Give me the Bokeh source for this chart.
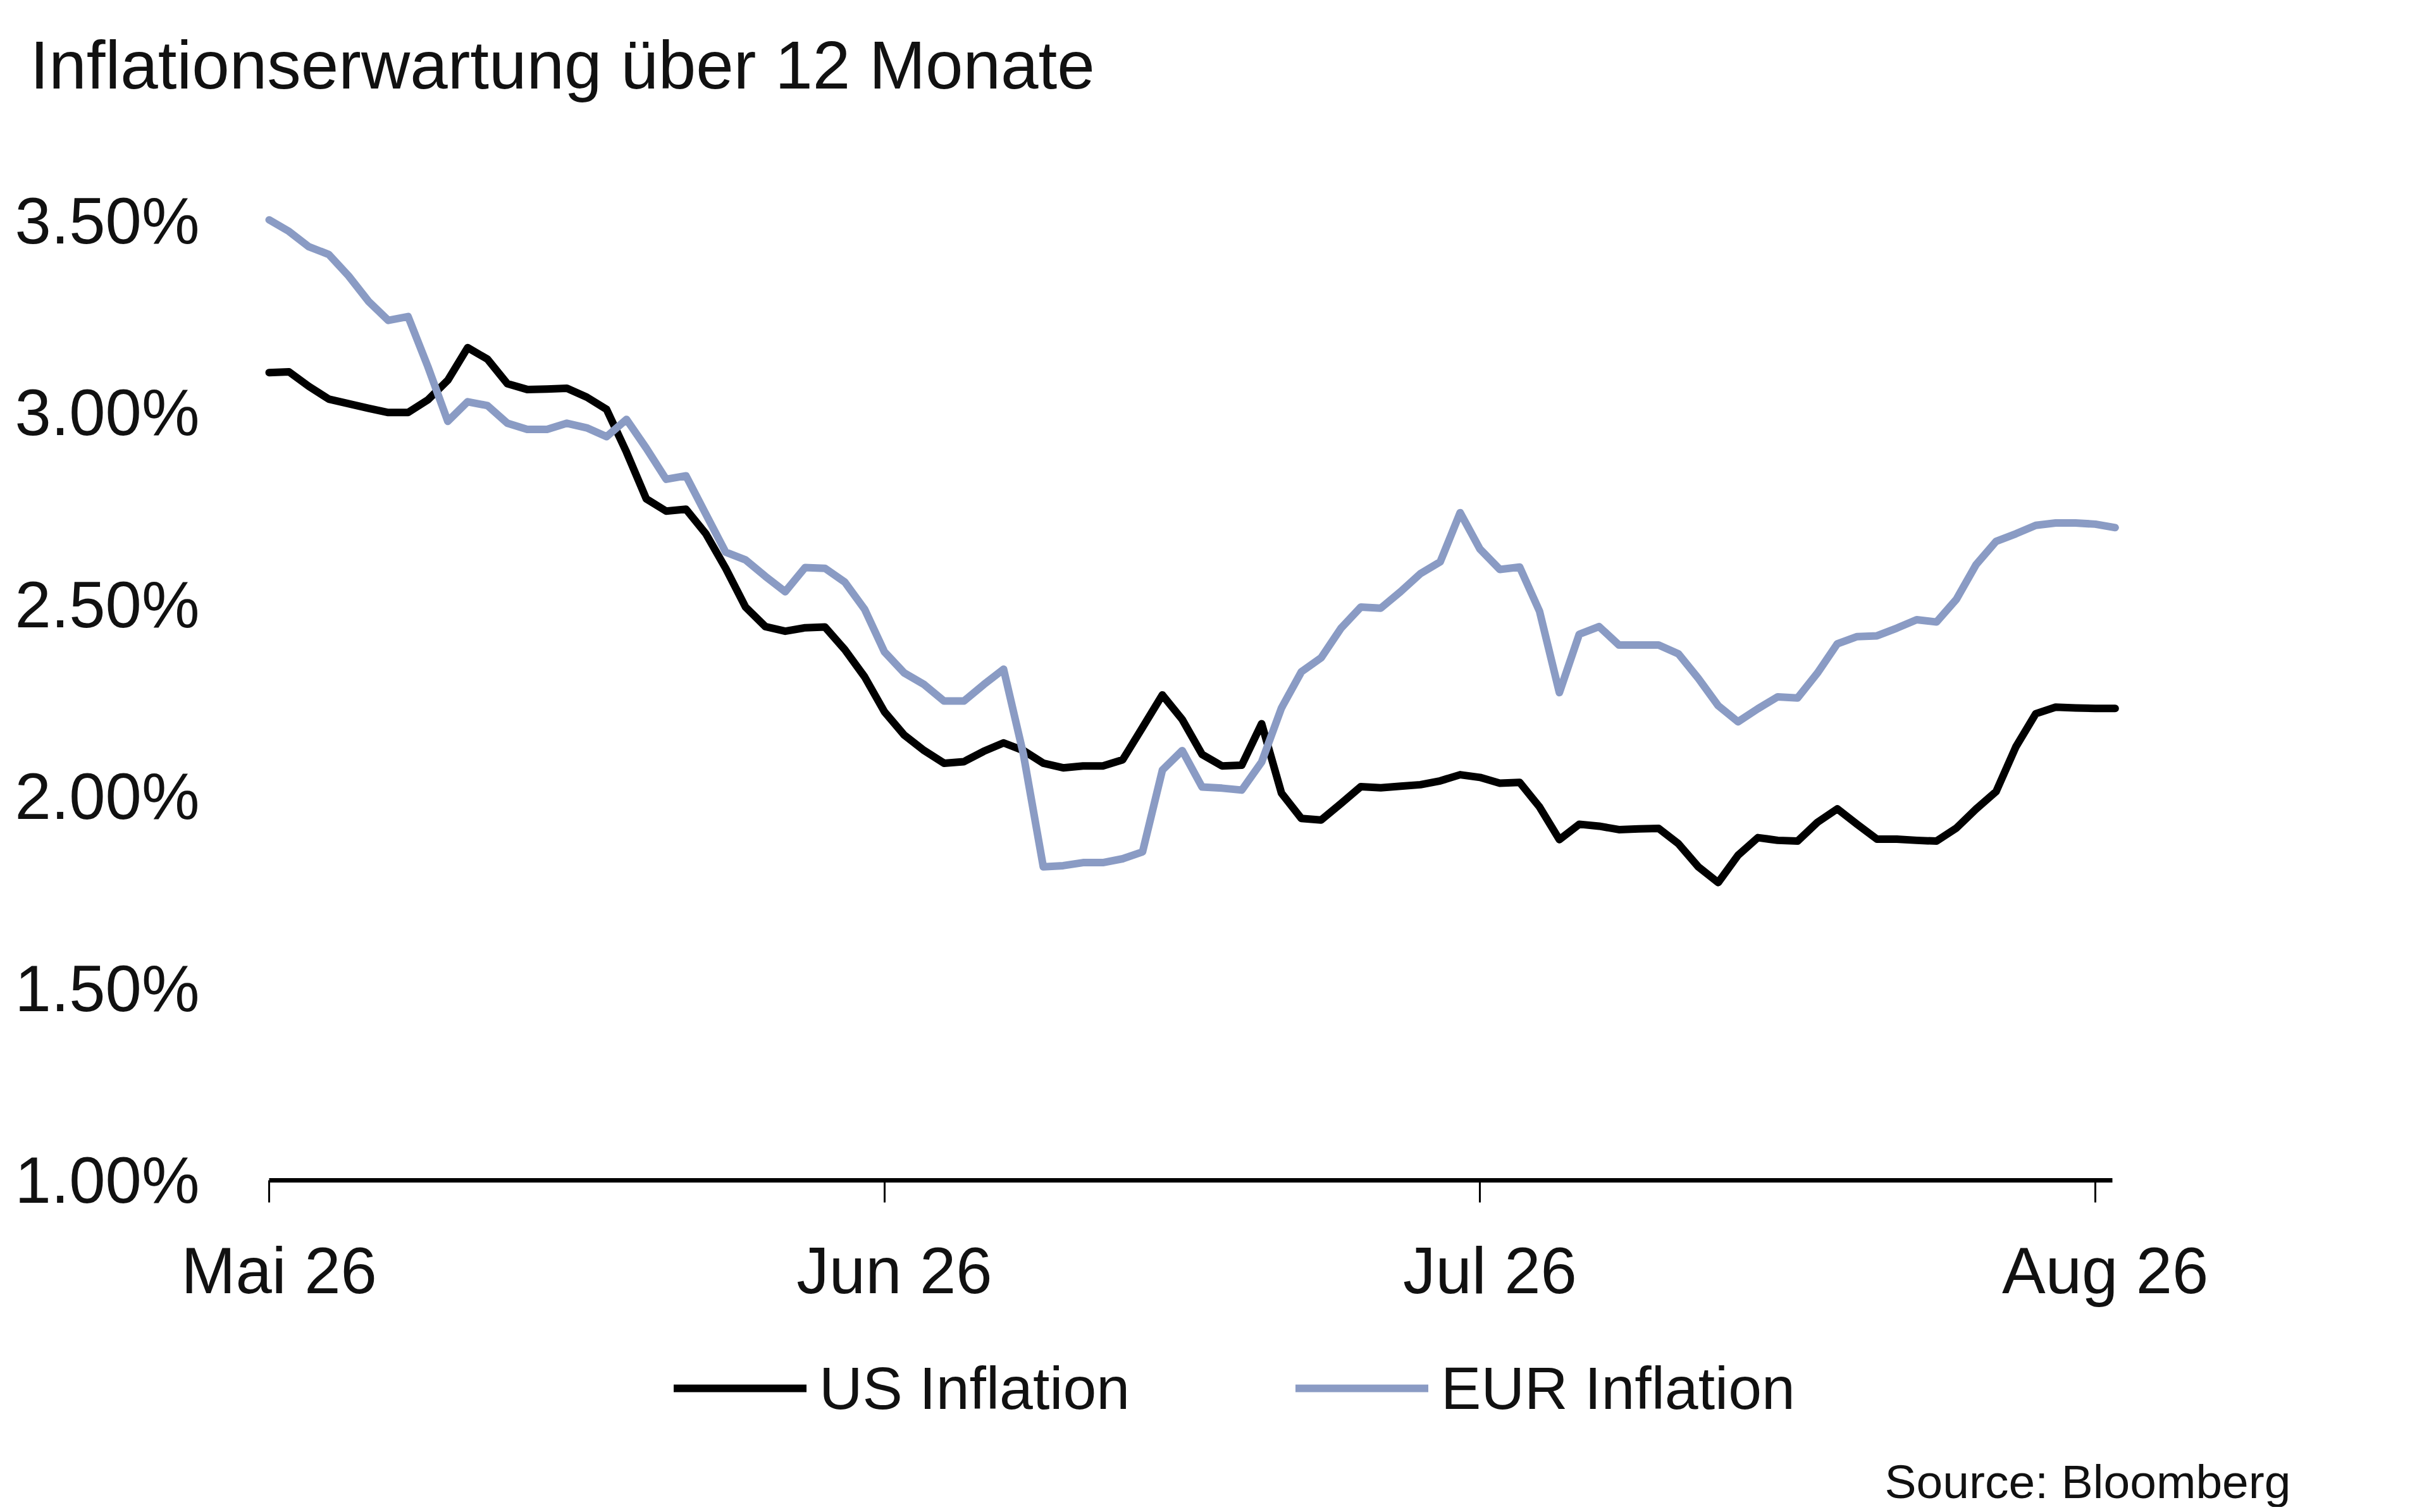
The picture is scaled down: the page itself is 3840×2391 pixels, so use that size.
from datetime import datetime, timedelta
import pandas as pd
from bokeh.plotting import figure
from bokeh.models import (Range1d, FixedTicker, PrintfTickFormatter, Label,
                          Legend, LegendItem, ColumnDataSource, DatetimeAxis)
from bokeh.embed import file_html
from bokeh.resources import INLINE

# ---------------- data ----------------
start_date = "2026-05-01"

us_inflation = [
    3.105, 3.107, 3.069, 3.036, 3.024, 3.012, 3.001, 3.001, 3.034, 3.085,
    3.170, 3.140, 3.076, 3.061, 3.062, 3.064, 3.041, 3.009, 2.898, 2.776,
    2.744, 2.749, 2.685, 2.595, 2.494, 2.443, 2.431, 2.440, 2.442, 2.383,
    2.312, 2.221, 2.160, 2.120, 2.087, 2.091, 2.118, 2.140, 2.120, 2.087,
    2.075, 2.080, 2.080, 2.096, 2.180, 2.265, 2.201, 2.110, 2.080, 2.082,
    2.190, 2.009, 1.943, 1.939, 1.982, 2.026, 2.023, 2.027, 2.031, 2.041,
    2.057, 2.050, 2.035, 2.037, 1.973, 1.888, 1.928, 1.923, 1.914, 1.916,
    1.917, 1.877, 1.817, 1.776, 1.847, 1.893, 1.886, 1.884, 1.933, 1.968,
    1.928, 1.889, 1.889, 1.886, 1.884, 1.918, 1.968, 2.013, 2.130, 2.216,
    2.233, 2.231, 2.230, 2.230,
]

eur_inflation = [
    3.503, 3.473, 3.433, 3.413, 3.357, 3.291, 3.241, 3.251, 3.120, 2.978,
    3.029, 3.019, 2.973, 2.957, 2.957, 2.973, 2.961, 2.938, 2.983, 2.908,
    2.827, 2.836, 2.736, 2.637, 2.617, 2.574, 2.534, 2.597, 2.595, 2.559,
    2.488, 2.377, 2.322, 2.292, 2.249, 2.249, 2.292, 2.332, 2.110, 1.817,
    1.820, 1.828, 1.828, 1.838, 1.856, 2.069, 2.120, 2.025, 2.022, 2.017,
    2.090, 2.231, 2.325, 2.362, 2.439, 2.494, 2.491, 2.534, 2.581, 2.612,
    2.740, 2.645, 2.592, 2.598, 2.483, 2.271, 2.423, 2.443, 2.395, 2.395,
    2.395, 2.372, 2.308, 2.237, 2.195, 2.229, 2.260, 2.257, 2.322, 2.398,
    2.417, 2.419, 2.439, 2.461, 2.455, 2.514, 2.605, 2.665, 2.685, 2.707,
    2.713, 2.713, 2.710, 2.701,
]

y_ticks = [1.0, 1.5, 2.0, 2.5, 3.0, 3.5]
x_tick_dates = ["2026-05-01", "2026-06-01", "2026-07-01", "2026-08-01"]
x_tick_labels = ["Mai 26", "Jun 26", "Jul 26", "Aug 26"]
series_labels = ["US Inflation", "EUR Inflation"]
title_text = "Inflationserwartung über 12 Monate"
source_text = "Source: Bloomberg"

# ---------------- styling / layout constants ----------------
FONT = "Liberation Sans"
TXT = "#111111"
US_COLOR = "#000000"
EUR_COLOR = "#8A9BC4"

W, H = 3824, 2383
# pixel box of the data area inside the canvas (from top-left)
AX_L, AX_R, AX_T, AX_B = 425, 3339, 349, 1866
LABEL_SHIFT_HOURS = 12          # month labels sit slightly right of their tick
x0 = datetime(2026, 5, 1)
x1 = datetime(2026, 8, 1, 20, 40)
y0, y1 = 1.0, 3.5

days = (x1 - x0).total_seconds() / 86400.0
px_day = (AX_R - AX_L) / days
px_val = (AX_B - AX_T) / (y1 - y0)
xr = Range1d(x0 - timedelta(days=AX_L / px_day), x1 + timedelta(days=(W - AX_R) / px_day))
yr = Range1d(y0 - (H - AX_B) / px_val, y1 + AX_T / px_val)

dates = pd.date_range(start_date, periods=len(us_inflation), freq="D")
src = ColumnDataSource(dict(date=dates, us=us_inflation, eur=eur_inflation))

p = figure(
    width=W, height=H, x_axis_type="datetime",
    x_range=xr, y_range=yr,
    output_backend="svg", toolbar_location=None,
    min_border=0,
)
p.outline_line_color = None
p.background_fill_color = "white"
p.border_fill_color = "white"
p.xgrid.visible = False
p.ygrid.visible = False

us_r = p.line("date", "us", source=src, line_color=US_COLOR, line_width=12,
              line_join="round", line_cap="round")
eur_r = p.line("date", "eur", source=src, line_color=EUR_COLOR, line_width=12,
               line_join="round", line_cap="round")

x0_ms = pd.Timestamp(x0).value // 10**6
x1_ms = pd.Timestamp(x1).value // 10**6

# y axis
p.yaxis.fixed_location = x0_ms
p.yaxis.bounds = (y0, y1)
p.yaxis.ticker = FixedTicker(ticks=y_ticks)
p.yaxis.formatter = PrintfTickFormatter(format="%.2f%%")
p.yaxis.axis_line_color = None
p.yaxis.major_tick_line_color = None
p.yaxis.minor_tick_line_color = None
p.yaxis.major_label_standoff = 104
p.yaxis.major_label_text_font = FONT
p.yaxis.major_label_text_font_size = "103px"
p.yaxis.major_label_text_color = TXT

# x axis: line and tick marks
tick_ms = [pd.Timestamp(d).value // 10**6 for d in x_tick_dates]
p.xaxis.fixed_location = y0
p.xaxis.bounds = (x0_ms, x1_ms)
p.xaxis.ticker = FixedTicker(ticks=tick_ms)
p.xaxis.axis_line_color = "black"
p.xaxis.axis_line_width = 7
p.xaxis.major_tick_line_color = "black"
p.xaxis.major_tick_line_width = 3
p.xaxis.major_tick_out = 35
p.xaxis.major_tick_in = 0
p.xaxis.minor_tick_line_color = None
p.xaxis.major_label_text_color = None

# x axis: month labels
shift_ms = LABEL_SHIFT_HOURS * 3600 * 1000
label_ms = [t + shift_ms for t in tick_ms]
lab_axis = DatetimeAxis(
    fixed_location=y0,
    ticker=FixedTicker(ticks=label_ms),
    major_label_overrides={t: lab for t, lab in zip(label_ms, x_tick_labels)},
    axis_line_color=None, major_tick_line_color=None, minor_tick_line_color=None,
    major_tick_out=35, major_tick_in=0, major_label_standoff=50,
    major_label_text_font=FONT, major_label_text_font_size="103px",
    major_label_text_color=TXT,
)
p.add_layout(lab_axis, "below")

# legend (screen position, bottom-left corner measured from canvas bottom-left)
LEG_H = 110
legend = Legend(
    items=[LegendItem(label=series_labels[0], renderers=[us_r]),
           LegendItem(label=series_labels[1], renderers=[eur_r])],
    orientation="horizontal",
    location=(1065, H - 2250),
    glyph_width=210, glyph_height=LEG_H,
    label_height=LEG_H, label_standoff=20,
    spacing=262, padding=0, margin=0,
    border_line_color=None, background_fill_alpha=0,
    label_text_font=FONT, label_text_font_size="95px",
    label_text_color=TXT, label_text_baseline="middle",
)
p.add_layout(legend, "center")

# title and source
p.add_layout(Label(x=47, y=H - 102, x_units="screen", y_units="screen",
                   text=title_text, text_font=FONT, text_font_size="107px",
                   text_color=TXT, text_align="left", text_baseline="alphabetic"))
p.add_layout(Label(x=3621, y=41, x_units="screen", y_units="screen",
                   text=source_text, text_font=FONT, text_font_size="75px",
                   text_color=TXT, text_align="right", text_baseline="alphabetic"))

open("out.html", "w").write(file_html(p, INLINE))
